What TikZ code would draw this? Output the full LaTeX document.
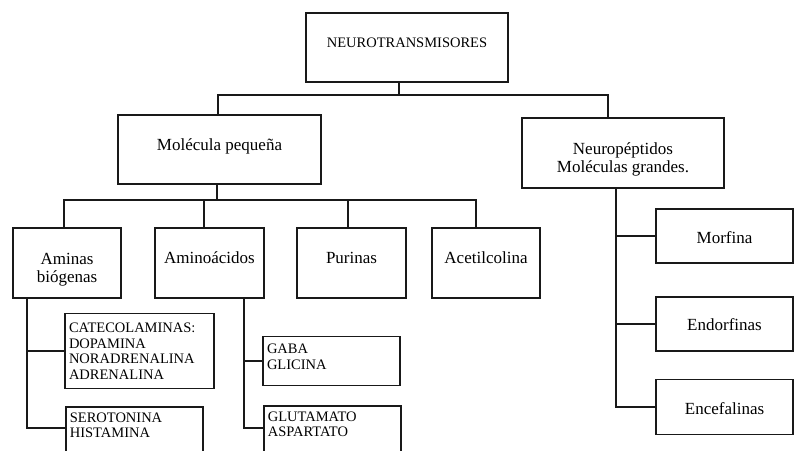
\documentclass[tikz,border=0pt]{standalone}
\usepackage{fontspec}
\setmainfont{Liberation Serif}
\usetikzlibrary{calc}
\begin{document}
\begin{tikzpicture}[x=1pt,y=-1pt,
  box/.style={draw=black!90, line width=1.7pt, inner sep=2pt, align=center,
    font=\fontsize{17}{18}\selectfont},
  capsbox/.style={draw=black!90, line width=1.7pt, inner xsep=4pt, align=left,
    font=\fontsize{14.5}{15.5}\selectfont},
  conn/.style={draw=black!90, line width=1.7pt}]
\useasboundingbox (0,0) rectangle (798,450);
% top level
\node[box, minimum width=202, minimum height=69, text depth=10pt,
  font=\fontsize{14.5}{15}\selectfont] (root) at (407,47.5) {NEUROTRANSMISORES};
\node[box, minimum width=203, minimum height=69, text depth=9pt] (mol) at (219.5,149.5) {Molécula pequeña};
\node[box, minimum width=202, minimum height=70] (neu) at (623,153)
  {\rule{0pt}{24pt}Neuropéptidos\\Moléculas grandes.};
% small-molecule families
\node[box, minimum width=108, minimum height=70] (ami) at (67,263)
  {\rule{0pt}{24pt}Aminas\\biógenas};
\node[box, minimum width=109, minimum height=70, text depth=10pt] (amc) at (209.5,263) {Aminoácidos};
\node[box, minimum width=109, minimum height=70, text depth=10pt] (pur) at (351.5,263) {Purinas};
\node[box, minimum width=108, minimum height=70, text depth=10pt] (ace) at (486,263) {Acetilcolina};
% neuropeptides
\node[box, minimum width=137, minimum height=54, text height=16pt] (mor) at (724.5,236) {Morfina};
\node[box, minimum width=137, minimum height=54, text height=14pt] (endo) at (724.5,324) {Endorfinas};
\node[box, minimum width=137, minimum height=55, text height=15pt] (enc) at (724.5,407) {Encefalinas};
% members
\node[capsbox, minimum width=149, minimum height=75, text width=141] (cate) at (139.5,351)
  {CATECOLAMINAS:\\DOPAMINA\\NORADRENALINA\\ADRENALINA};
\node[capsbox, minimum width=137, minimum height=49, text width=129, text depth=24pt] (gaba) at (331.5,361)
  {GABA\\GLICINA};
\node[capsbox, anchor=north west, minimum width=137, text width=129, inner ysep=6pt, text depth=40pt] (sero) at (65,406)
  {SEROTONINA\\HISTAMINA};
\node[capsbox, anchor=north west, minimum width=137, text width=129, inner ysep=6pt, text depth=40pt] (glu) at (263,405)
  {GLUTAMATO\\ASPARTATO};
% bus junctions
\coordinate (t0) at (399,95);
\coordinate (tL) at (218,95);
\coordinate (tR) at (608,95);
\coordinate (m0) at (217,200);
\coordinate (mA) at (64,200);
\coordinate (mB) at (204,200);
\coordinate (mC) at (348,200);
\coordinate (mD) at (476,200);
\coordinate (n0) at (616,0);
\coordinate (a0) at (27,0);
\coordinate (c0) at (244,0);
\coordinate (seroin) at ($(sero.north west)+(0,22)$);
\coordinate (gluin) at ($(glu.north west)+(0,23)$);
% connectors
\draw[conn] (t0 |- root.south) -- (t0);
\draw[conn] (tL |- mol.north) -- (tL) -- (tR) -- (tR |- neu.north);
\draw[conn] (m0 |- mol.south) -- (m0);
\draw[conn] (mA |- ami.north) -- (mA) -- (mD) -- (mD |- ace.north);
\draw[conn] (mB) -- (mB |- amc.north);
\draw[conn] (mC) -- (mC |- pur.north);
\draw[conn] (n0 |- neu.south) |- (enc.west);
\draw[conn] (n0 |- mor.west) -- (mor.west);
\draw[conn] (n0 |- endo.west) -- (endo.west);
\draw[conn] (a0 |- ami.south) |- (seroin);
\draw[conn] (a0 |- cate.west) -- (cate.west);
\draw[conn] (c0 |- amc.south) |- (gluin);
\draw[conn] (c0 |- gaba.west) -- (gaba.west);
\end{tikzpicture}
\end{document}
